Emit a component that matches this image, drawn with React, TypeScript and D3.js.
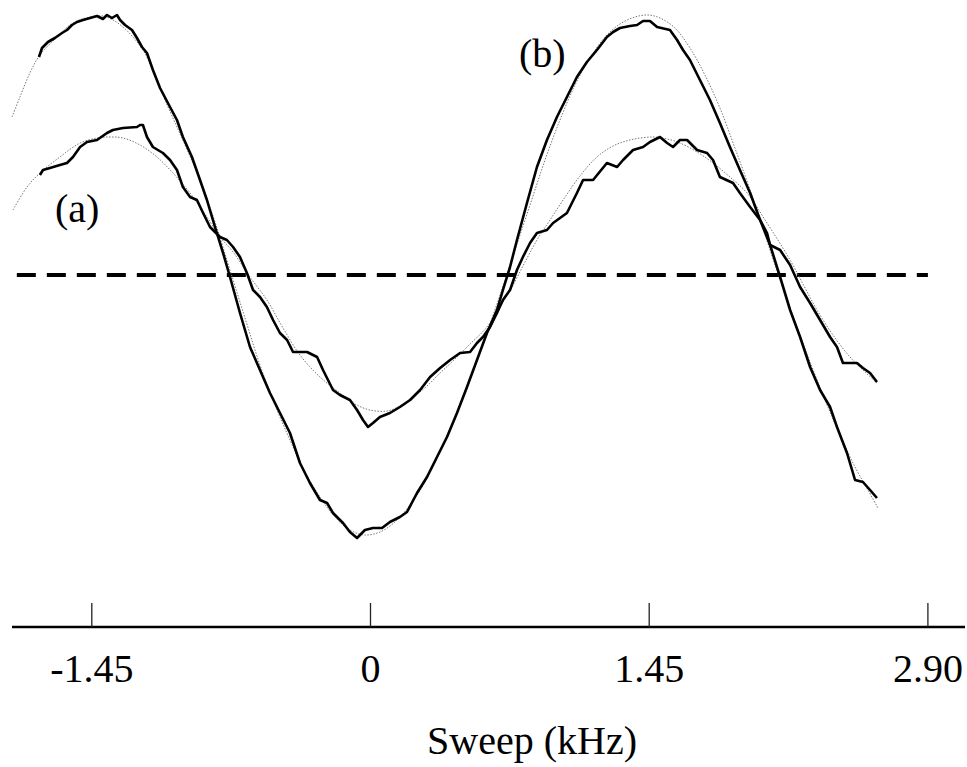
import React from "react";
import * as d3 from "d3";

// Sweep in kHz, signal in arbitrary units (dashed reference line at 0)
const tickValues = [-1.45, 0, 1.45, 2.9];
const tickLabels = ["-1.45", "0", "1.45", "2.90"];
const xLabel = "Sweep (kHz)";
const labelA = "(a)";
const labelB = "(b)";
const baselineValue = 0;
const baselineExtent = [-1.84, 2.9];

// Curve (b): measured trace
const bX = [
  -1.725, -1.709, -1.678, -1.642, -1.605, -1.579, -1.553, -1.527, -1.496, -1.459,
  -1.423, -1.392, -1.371, -1.345, -1.319, -1.303, -1.277, -1.241, -1.215, -1.189,
  -1.163, -1.132, -1.095, -1.043, -1.007, -0.976, -0.929, -0.887, -0.851, -0.809,
  -0.767, -0.731, -0.679, -0.627, -0.575, -0.523, -0.471, -0.419, -0.367, -0.315,
  -0.263, -0.226, -0.195, -0.143, -0.107, -0.07, -0.029, 0.013, 0.06, 0.101,
  0.153, 0.19, 0.242, 0.294, 0.346, 0.398, 0.45, 0.502, 0.554, 0.606,
  0.658, 0.689, 0.726, 0.762, 0.814, 0.866, 0.918, 0.97, 1.022, 1.074,
  1.126, 1.178, 1.23, 1.262, 1.298, 1.35, 1.387, 1.418, 1.454, 1.491,
  1.558, 1.595, 1.626, 1.662, 1.714, 1.766, 1.818, 1.87, 1.922, 1.975,
  2.027, 2.079, 2.131, 2.183, 2.235, 2.287, 2.339, 2.391, 2.427, 2.479,
  2.521, 2.562, 2.599, 2.635,
];
const bY = [
  2.18, 2.27, 2.33, 2.37, 2.42, 2.45, 2.5, 2.53, 2.55, 2.57,
  2.59, 2.56, 2.6, 2.57, 2.6, 2.55, 2.5, 2.45, 2.37, 2.28,
  2.22, 2.05, 1.87, 1.68, 1.55, 1.38, 1.18, 0.95, 0.75, 0.48,
  0.22, -0.02, -0.38, -0.72, -0.95, -1.18, -1.38, -1.58, -1.88, -2.08,
  -2.25, -2.28, -2.38, -2.48, -2.57, -2.63, -2.55, -2.53, -2.53, -2.47,
  -2.42, -2.37, -2.18, -2.02, -1.82, -1.62, -1.38, -1.12, -0.85, -0.58,
  -0.35, -0.15, 0.08, 0.35, 0.72, 1.08, 1.35, 1.58, 1.78, 1.98,
  2.13, 2.25, 2.38, 2.43, 2.47, 2.49, 2.5, 2.54, 2.54, 2.48,
  2.45, 2.35, 2.25, 2.15, 1.95, 1.75, 1.52, 1.28, 1.05, 0.82,
  0.55, 0.3, -0.02, -0.35, -0.62, -0.92, -1.15, -1.32, -1.52, -1.78,
  -2.05, -2.07, -2.15, -2.23,
];

// Curve (a): measured trace
const aX = [
  -1.72, -1.704, -1.668, -1.616, -1.579, -1.548, -1.511, -1.475, -1.423, -1.371,
  -1.34, -1.288, -1.215, -1.199, -1.184, -1.163, -1.132, -1.08, -1.043, -1.007,
  -0.976, -0.939, -0.903, -0.871, -0.835, -0.783, -0.747, -0.715, -0.679, -0.643,
  -0.611, -0.575, -0.539, -0.507, -0.471, -0.434, -0.403, -0.33, -0.278, -0.247,
  -0.195, -0.159, -0.107, -0.07, -0.039, -0.013, 0.013, 0.049, 0.101, 0.153,
  0.206, 0.258, 0.31, 0.362, 0.414, 0.466, 0.518, 0.554, 0.585, 0.622,
  0.658, 0.689, 0.726, 0.762, 0.793, 0.83, 0.866, 0.918, 0.95, 1.022,
  1.074, 1.106, 1.158, 1.23, 1.283, 1.314, 1.366, 1.418, 1.454, 1.506,
  1.543, 1.574, 1.61, 1.647, 1.699, 1.751, 1.782, 1.818, 1.886, 1.922,
  1.975, 2.027, 2.063, 2.079, 2.131, 2.183, 2.235, 2.287, 2.339, 2.391,
  2.427, 2.458, 2.531, 2.562, 2.599, 2.635,
];
const aY = [
  1.0, 1.05, 1.07, 1.1, 1.12, 1.18, 1.28, 1.33, 1.35, 1.42,
  1.45, 1.47, 1.48, 1.5, 1.5, 1.38, 1.28, 1.22, 1.15, 1.05,
  0.88, 0.78, 0.75, 0.62, 0.48, 0.38, 0.35, 0.28, 0.18, 0.02,
  -0.15, -0.22, -0.32, -0.45, -0.58, -0.65, -0.77, -0.77, -0.82, -0.95,
  -1.15, -1.2, -1.25, -1.35, -1.45, -1.52, -1.48, -1.42, -1.38, -1.32,
  -1.25, -1.15, -1.02, -0.93, -0.85, -0.78, -0.77, -0.68, -0.62, -0.52,
  -0.38, -0.25, -0.15, 0.05, 0.18, 0.32, 0.42, 0.45, 0.52, 0.62,
  0.82, 0.95, 0.95, 1.12, 1.08, 1.15, 1.25, 1.28, 1.33, 1.38,
  1.32, 1.28, 1.35, 1.35, 1.25, 1.22, 1.15, 0.98, 0.92, 0.82,
  0.68, 0.55, 0.42, 0.3, 0.25, 0.1, -0.12, -0.28, -0.45, -0.62,
  -0.72, -0.88, -0.88, -0.93, -0.98, -1.07,
];

// Fitted curves (dotted)
const bFitX = [
  -1.865, -1.824, -1.772, -1.72, -1.631, -1.548, -1.459, -1.392, -1.34, -1.288,
  -1.236, -1.184, -1.132, -1.069, -0.965, -0.887, -0.809, -0.731, -0.653, -0.575,
  -0.497, -0.419, -0.341, -0.263, -0.185, -0.107, -0.029, 0.049, 0.127, 0.206,
  0.284, 0.362, 0.44, 0.518, 0.596, 0.674, 0.752, 0.83, 0.908, 0.986,
  1.064, 1.142, 1.22, 1.298, 1.376, 1.444, 1.506, 1.584, 1.662, 1.74,
  1.818, 1.896, 1.975, 2.053, 2.131, 2.209, 2.287, 2.365, 2.443, 2.521,
  2.588, 2.64,
];
const bFitY = [
  1.58, 1.78, 2.02, 2.2, 2.38, 2.52, 2.58, 2.59, 2.55, 2.48,
  2.38, 2.25, 2.05, 1.75, 1.3, 0.95, 0.53, 0.05, -0.43, -0.9,
  -1.3, -1.65, -1.97, -2.22, -2.42, -2.55, -2.6, -2.57, -2.47, -2.3,
  -2.07, -1.77, -1.43, -1.05, -0.63, -0.2, 0.25, 0.7, 1.15, 1.55,
  1.9, 2.17, 2.38, 2.51, 2.58, 2.6, 2.57, 2.47, 2.27, 2.0,
  1.67, 1.27, 0.85, 0.4, -0.05, -0.47, -0.87, -1.25, -1.6, -1.92,
  -2.15, -2.33,
];
const aFitX = [
  -1.86, -1.787, -1.72, -1.616, -1.511, -1.423, -1.355, -1.288, -1.199, -1.111,
  -1.028, -0.939, -0.851, -0.783, -0.715, -0.627, -0.539, -0.455, -0.367, -0.263,
  -0.159, -0.081, -0.003, 0.086, 0.153, 0.221, 0.294, 0.362, 0.429, 0.502,
  0.606, 0.674, 0.736, 0.804, 0.866, 0.934, 1.002, 1.09, 1.178, 1.262,
  1.35, 1.47, 1.543, 1.61, 1.699, 1.782, 1.87, 1.959, 2.053, 2.183,
  2.261, 2.323, 2.406, 2.495, 2.573, 2.635,
];
const aFitY = [
  0.65, 0.88, 1.02, 1.18, 1.32, 1.37, 1.38, 1.37, 1.3, 1.18,
  1.02, 0.82, 0.58, 0.38, 0.23, -0.02, -0.25, -0.53, -0.8, -1.02,
  -1.18, -1.29, -1.35, -1.36, -1.31, -1.22, -1.11, -0.98, -0.86, -0.72,
  -0.52, -0.32, -0.12, 0.13, 0.35, 0.55, 0.75, 0.99, 1.18, 1.29,
  1.35, 1.38, 1.36, 1.32, 1.23, 1.12, 0.98, 0.82, 0.55, 0.15,
  -0.13, -0.35, -0.6, -0.82, -0.97, -1.08,
];

const W = 967;
const H = 767;
const FONT = "'Liberation Serif', 'Times New Roman', Times, serif";

export default function App() {
  const x = d3.scaleLinear().domain([-1.45, 2.9]).range([91.8, 927.9]);
  const y = d3.scaleLinear().domain([-3.5, 2.75]).range([625, 0]);
  const axisY = 627;

  const zip = (xs: number[], ys: number[]) => xs.map((v, i) => [v, ys[i]] as [number, number]);
  const dataLine = d3
    .line<[number, number]>()
    .x((d) => x(d[0]))
    .y((d) => y(d[1]))
    .curve(d3.curveLinear);
  const fitLine = d3
    .line<[number, number]>()
    .x((d) => x(d[0]))
    .y((d) => y(d[1]))
    .curve(d3.curveCatmullRom);

  return (
    <svg
      width={W}
      height={H}
      style={{ position: "absolute", left: 0, top: 0, background: "#fff" }}
      xmlns="http://www.w3.org/2000/svg"
    >
      <rect x={0} y={0} width={W} height={H} fill="#fff" />
      {/* dashed reference */}
      <line
        x1={x(baselineExtent[0])}
        x2={x(baselineExtent[1])}
        y1={y(baselineValue)}
        y2={y(baselineValue)}
        stroke="#000"
        strokeWidth={4}
        strokeDasharray="19 11"
      />
      {/* fits */}
      <path d={fitLine(zip(bFitX, bFitY)) || ""} fill="none" stroke="#777" strokeWidth={1} strokeDasharray="1.5 1.5" />
      <path d={fitLine(zip(aFitX, aFitY)) || ""} fill="none" stroke="#777" strokeWidth={1} strokeDasharray="1.5 1.5" />
      {/* data */}
      <path d={dataLine(zip(bX, bY)) || ""} fill="none" stroke="#000" strokeWidth={2.6} strokeLinejoin="round" />
      <path d={dataLine(zip(aX, aY)) || ""} fill="none" stroke="#000" strokeWidth={2.6} strokeLinejoin="round" />

      {/* curve labels */}
      <text x={55} y={222} fontFamily={FONT} fontSize={40} fill="#000">
        {labelA}
      </text>
      <text x={519} y={67} fontFamily={FONT} fontSize={40} fill="#000">
        {labelB}
      </text>

      {/* x axis */}
      <line x1={12} x2={965} y1={axisY} y2={axisY} stroke="#000" strokeWidth={2.5} />
      {tickValues.map((t, i) => (
        <g key={i}>
          <line x1={x(t)} x2={x(t)} y1={603} y2={axisY} stroke="#222" strokeWidth={1.3} />
          <text x={x(t)} y={682} textAnchor="middle" fontFamily={FONT} fontSize={40} fill="#000">
            {tickLabels[i]}
          </text>
        </g>
      ))}
      <text x={532} y={754} textAnchor="middle" fontFamily={FONT} fontSize={40} fill="#000">
        {xLabel}
      </text>
    </svg>
  );
}
